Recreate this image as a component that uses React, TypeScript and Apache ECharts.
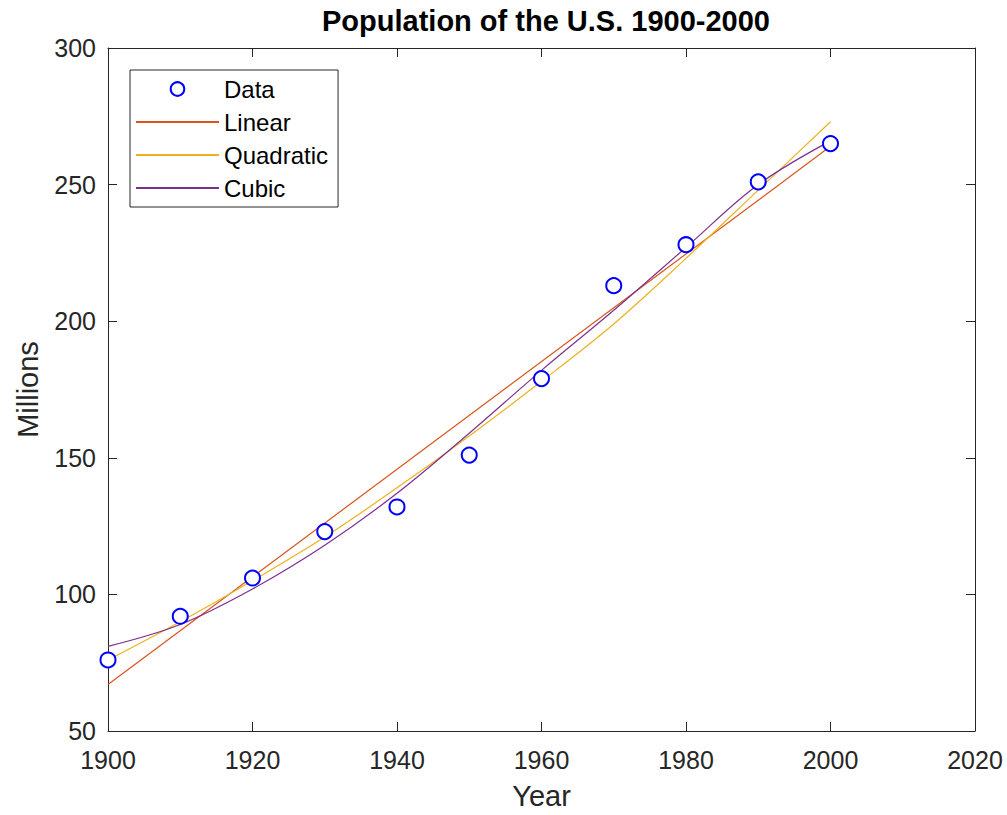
import React, { useEffect, useRef } from "react";
import * as echarts from "echarts";

const years = [1900, 1910, 1920, 1930, 1940, 1950, 1960, 1970, 1980, 1990, 2000];
const population = [76, 92, 106, 123, 132, 151, 179, 213, 228, 251, 265];
const linearYears = [1900, 2000];
const linearFit = [67, 264];
const quadraticFit = [76, 90, 105, 121, 139, 158, 178, 199, 223, 248, 273];
const cubicFit = [81, 89, 102, 118, 137, 159, 182, 204, 227, 250, 266];

const FONT = "'Liberation Sans', Arial, Helvetica, sans-serif";
const AX = "#262626";

const pairs = (xs: number[], ys: number[]) => xs.map((x, i) => [x, ys[i]]);

export default function App() {
  const ref = useRef<HTMLDivElement>(null);
  useEffect(() => {
    if (!ref.current) return;
    const chart = echarts.init(ref.current, null, { renderer: "svg" });
    const axisCommon = {
      axisLine: { show: true, lineStyle: { color: AX, width: 1 } },
      axisTick: { show: true, inside: true, length: 9, lineStyle: { color: AX, width: 1 } },
      splitLine: { show: false },
    };
    chart.setOption({
      animation: false,
      backgroundColor: "#ffffff",
      title: {
        text: "Population of the U.S. 1900-2000",
        left: 541,
        textAlign: "center",
        top: 1,
        textStyle: { fontFamily: FONT, fontSize: 29, fontWeight: "bold", color: "#000" },
      },
      grid: { left: 108, right: 32, top: 48, bottom: 76, containLabel: false },
      legend: {
        orient: "vertical",
        left: 130,
        top: 70,
        padding: [7, 10, 7, 5],
        itemWidth: 83,
        itemHeight: 17,
        itemGap: 9,
        borderColor: AX,
        borderWidth: 1,
        backgroundColor: "#fff",
        textStyle: { fontFamily: FONT, fontSize: 24, color: "#000" },
        data: [
          { name: "Data" },
          { name: "Linear", itemStyle: { opacity: 0 } },
          { name: "Quadratic", itemStyle: { opacity: 0 } },
          { name: "Cubic", itemStyle: { opacity: 0 } },
        ],
      },
      xAxis: [
        {
          type: "value",
          min: 1900,
          max: 2020,
          interval: 20,
          position: "bottom",
          name: "Year",
          nameLocation: "middle",
          nameGap: 50,
          nameTextStyle: { fontFamily: FONT, fontSize: 29, color: AX },
          axisLabel: { fontFamily: FONT, fontSize: 25, color: AX, margin: 16, formatter: (v: number) => String(v) },
          ...axisCommon,
        },
        {
          type: "value",
          min: 1900,
          max: 2020,
          interval: 20,
          position: "top",
          axisLabel: { show: false },
          ...axisCommon,
        },
      ],
      yAxis: [
        {
          type: "value",
          min: 50,
          max: 300,
          interval: 50,
          position: "left",
          name: "Millions",
          nameLocation: "middle",
          nameGap: 66,
          nameTextStyle: { fontFamily: FONT, fontSize: 29, color: AX },
          axisLabel: { fontFamily: FONT, fontSize: 25, color: AX, margin: 12 },
          ...axisCommon,
        },
        {
          type: "value",
          min: 50,
          max: 300,
          interval: 50,
          position: "right",
          axisLabel: { show: false },
          ...axisCommon,
        },
      ],
      series: [
        {
          name: "Data",
          type: "line",
          data: pairs(years, population),
          symbol: "emptyCircle",
          symbolSize: 15,
          showSymbol: true,
          lineStyle: { width: 0, opacity: 0 },
          itemStyle: { color: "#0000ff", borderColor: "#0000ff", borderWidth: 1.6 },
          z: 5,
        },
        {
          name: "Linear",
          type: "line",
          data: pairs(linearYears, linearFit),
          symbol: "none",
          lineStyle: { color: "#D95319", width: 1.2 },
          itemStyle: { color: "#D95319" },
          z: 3,
        },
        {
          name: "Quadratic",
          type: "line",
          data: pairs(years, quadraticFit),
          symbol: "none",
          smooth: 0.35,
          lineStyle: { color: "#EDB120", width: 1.2 },
          itemStyle: { color: "#EDB120" },
          z: 3,
        },
        {
          name: "Cubic",
          type: "line",
          data: pairs(years, cubicFit),
          symbol: "none",
          smooth: 0.35,
          lineStyle: { color: "#7E2F8E", width: 1.2 },
          itemStyle: { color: "#7E2F8E" },
          z: 3,
        },
      ],
    });
    return () => chart.dispose();
  }, []);
  return <div ref={ref} style={{ width: 1007, height: 815, position: "absolute", left: 0, top: 0 }} />;
}
